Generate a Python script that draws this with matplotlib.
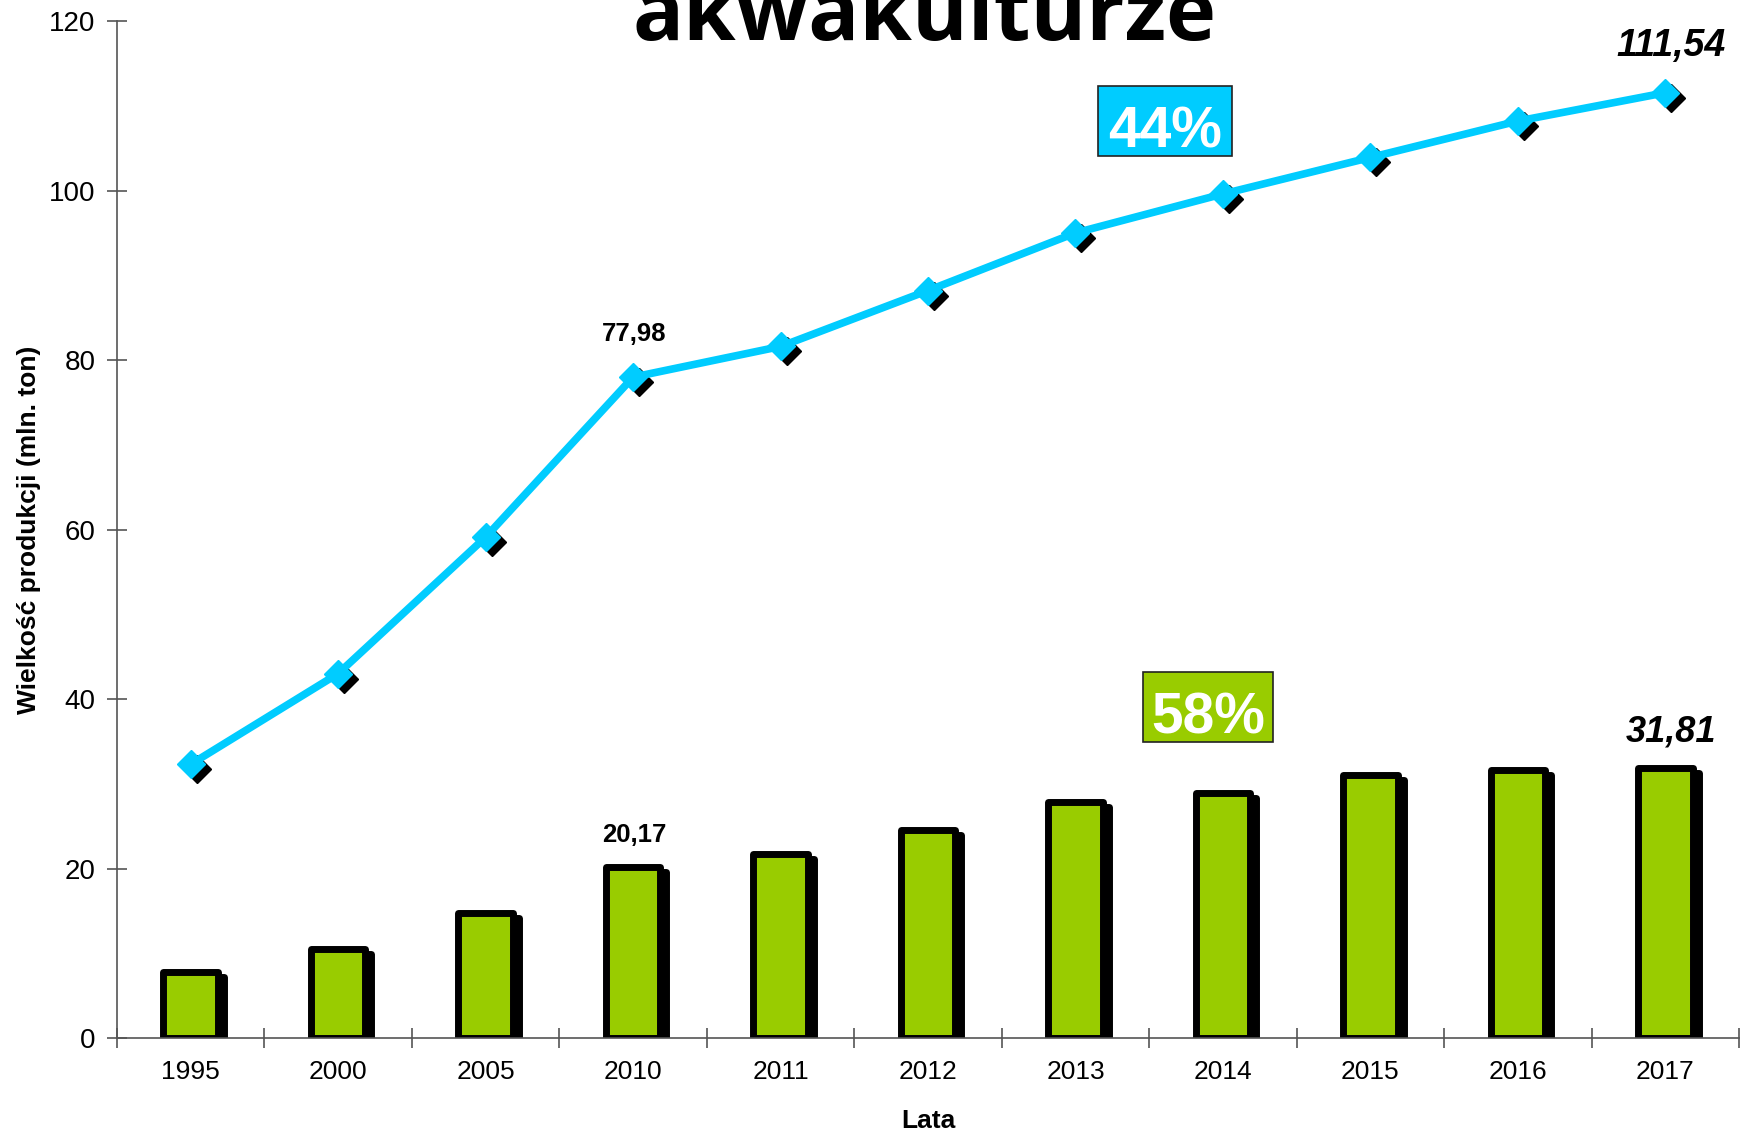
import matplotlib.pyplot as plt
import matplotlib.transforms as mtransforms
from matplotlib.patches import Rectangle

plt.rcParams['font.family'] = ['Liberation Sans', 'DejaVu Sans']

years = ['1995', '2000', '2005', '2010', '2011', '2012', '2013', '2014', '2015', '2016', '2017']
total = [32.3, 43.0, 59.1, 77.98, 81.6, 88.2, 95.0, 99.6, 103.9, 108.2, 111.54]
aquaculture = [7.8, 10.5, 14.7, 20.17, 21.7, 24.5, 27.9, 28.9, 31.0, 31.6, 31.81]

blue = '#00CCFF'
green = '#99CC00'

fig = plt.figure(figsize=(17.48, 11.31), dpi=100)
ax = fig.add_axes([0.0669, 0.0822, 0.928, 0.8992])
x = list(range(len(years)))

# shadows (offset down-right)
shadow = mtransforms.offset_copy(ax.transData, fig=fig, x=6, y=-5, units='dots')
ax.bar(x, aquaculture, width=0.37, color='black', edgecolor='black', linewidth=5,
       joinstyle='round', transform=shadow, zorder=1)
ax.bar(x, aquaculture, width=0.37, color=green, edgecolor='black', linewidth=5,
       joinstyle='round', zorder=2)

ax.plot(x, total, linestyle='none', marker='D', markersize=14, color='black',
        transform=shadow, zorder=3)
ax.plot(x, total, color=blue, linewidth=5.5, zorder=4)
ax.plot(x, total, linestyle='none', marker='D', markersize=14, color=blue, zorder=5)

# value labels
ax.annotate('77,98', (3, total[3]), xytext=(1, 31), textcoords='offset points',
            ha='center', va='center', fontsize=18.5, fontweight='bold')
ax.annotate('20,17', (3, aquaculture[3]), xytext=(1, 23), textcoords='offset points',
            ha='center', va='center', fontsize=18.5, fontweight='bold')
ax.annotate('111,54', (10, total[10]), xytext=(4, 34), textcoords='offset points',
            ha='center', va='center', fontsize=27, fontweight='bold', style='italic')
ax.annotate('31,81', (10, aquaculture[10]), xytext=(4, 26), textcoords='offset points',
            ha='center', va='center', fontsize=26, fontweight='bold', style='italic')

# percentage boxes
for x0, y0, w, h, fc, txt in [(0.605, 0.867, 0.0826, 0.0688, blue, '44%'),
                              (0.6326, 0.291, 0.080, 0.0688, green, '58%')]:
    ax.add_patch(Rectangle((x0, y0), w, h, transform=ax.transAxes, facecolor=fc,
                           edgecolor='#222222', linewidth=1.2, zorder=6, clip_on=False))
    ax.text(x0 + w / 2, y0 + h / 2 - 0.011, txt, transform=ax.transAxes, ha='center',
            va='center', color='white', fontsize=41, fontweight='bold', zorder=7)

ax.set_xlim(-0.5, 10.5)
ax.set_ylim(0, 120)
ax.set_yticks([0, 20, 40, 60, 80, 100, 120])
ax.set_xticks([i - 0.5 for i in range(12)])
ax.set_xticklabels([])
ax.set_xticks(x, minor=True)
ax.set_xticklabels(years, minor=True)
ax.tick_params(axis='x', which='major', direction='inout', length=15, width=1.2, color='#555555')
ax.tick_params(axis='x', which='minor', length=0, pad=16, labelsize=19)
ax.tick_params(axis='y', direction='inout', length=15, width=1.2, color='#555555',
               labelsize=20, pad=8)

for s in ['top', 'right']:
    ax.spines[s].set_visible(False)
for s in ['left', 'bottom']:
    ax.spines[s].set_color('#555555')
    ax.spines[s].set_linewidth(1.2)

ax.set_ylabel('Wielkość produkcji (mln. ton)', fontsize=19, fontweight='bold', labelpad=6)
ax.set_xlabel('Lata', fontsize=19, fontweight='bold', labelpad=18)

fig.text(0.529, 0.9646, 'akwakulturze', ha='center', va='baseline', fontsize=61,
         fontweight='bold', family=['Open Sans', 'DejaVu Sans'])

fig.savefig('out.png', dpi=100)
